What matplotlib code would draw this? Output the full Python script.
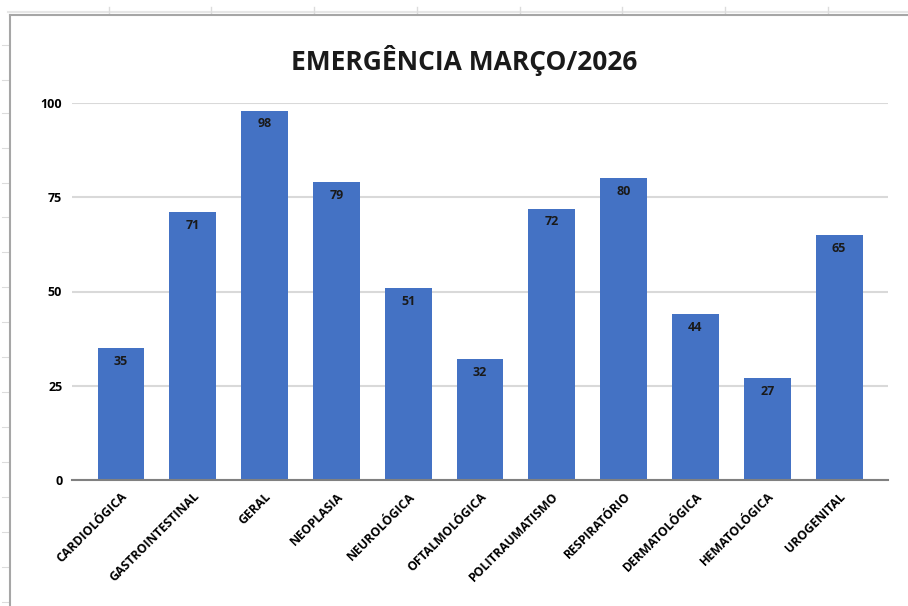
import matplotlib.pyplot as plt
from matplotlib.lines import Line2D

categorias = ['CARDIOLÓGICA', 'GASTROINTESTINAL', 'GERAL', 'NEOPLASIA', 'NEUROLÓGICA',
              'OFTALMOLÓGICA', 'POLITRAUMATISMO', 'RESPIRATÓRIO', 'DERMATOLÓGICA',
              'HEMATOLÓGICA', 'UROGENITAL']
valores = [35, 71, 98, 79, 51, 32, 72, 80, 44, 27, 65]
yticks = [0, 25, 50, 75, 100]

plt.rcParams['font.family'] = ['Open Sans', 'DejaVu Sans']

fig = plt.figure(figsize=(9.08, 6.06), dpi=100)
W, H = 908, 606

# moldura da planilha
def px_line(x0, y0, x1, y1, cor, lw):
    fig.add_artist(Line2D([x0 / W, x1 / W], [1 - y0 / H, 1 - y1 / H], color=cor, lw=lw,
                          transform=fig.transFigure))

px_line(8, 12, 908, 12, '#e6e6e6', 1.5)
for x in [109, 211, 314, 417, 520, 622, 725, 828]:
    px_line(x, 7, x, 14, '#dcdcdc', 1.0)
for y in [45, 80, 113, 148, 183, 217, 252, 287, 322, 357, 392, 427, 462, 497, 532, 567, 602]:
    px_line(2, y, 9, y, '#dcdcdc', 0.8)
px_line(10, 15, 908, 15, '#a6a6a6', 1.5)
px_line(10, 15, 10, 606, '#a6a6a6', 1.5)

ax = fig.add_axes([72 / W, 1 - 480 / H, (888 - 72) / W, (480 - 103) / H])
x = list(range(len(categorias)))
bars = ax.bar(x, valores, width=0.65, color='#4472C4', zorder=3)
for xi, v in zip(x, valores):
    ax.text(xi, v - 1.8, str(v), ha='center', va='top', fontsize=9, fontweight='bold',
            color='#1a1a1a', zorder=4)

ax.set_xlim(-0.68, 10.68)
ax.set_ylim(0, 100)
ax.set_yticks(yticks)
ax.set_yticklabels([str(t) for t in yticks], fontsize=9, fontweight='bold')
ax.yaxis.grid(True, color='#d9d9d9', lw=1.5, zorder=0)
ax.set_xticks(x)
ax.set_xticklabels(categorias, rotation=45, ha='right', rotation_mode='anchor',
                   fontsize=8.8, fontweight='bold')
ax.tick_params(axis='y', length=0, pad=7)
ax.tick_params(axis='x', length=0, pad=7)
for s in ['top', 'right', 'left']:
    ax.spines[s].set_visible(False)
ax.spines['bottom'].set_color('#808080')
ax.spines['bottom'].set_linewidth(1.5)
ax.spines['bottom'].set_zorder(5)

fig.text(464 / W, 1 - 60 / H, 'EMERGÊNCIA MARÇO/2026', ha='center', va='center',
         fontsize=19, fontweight='bold', color='#1a1a1a')

fig.savefig('out.png', dpi=100)
